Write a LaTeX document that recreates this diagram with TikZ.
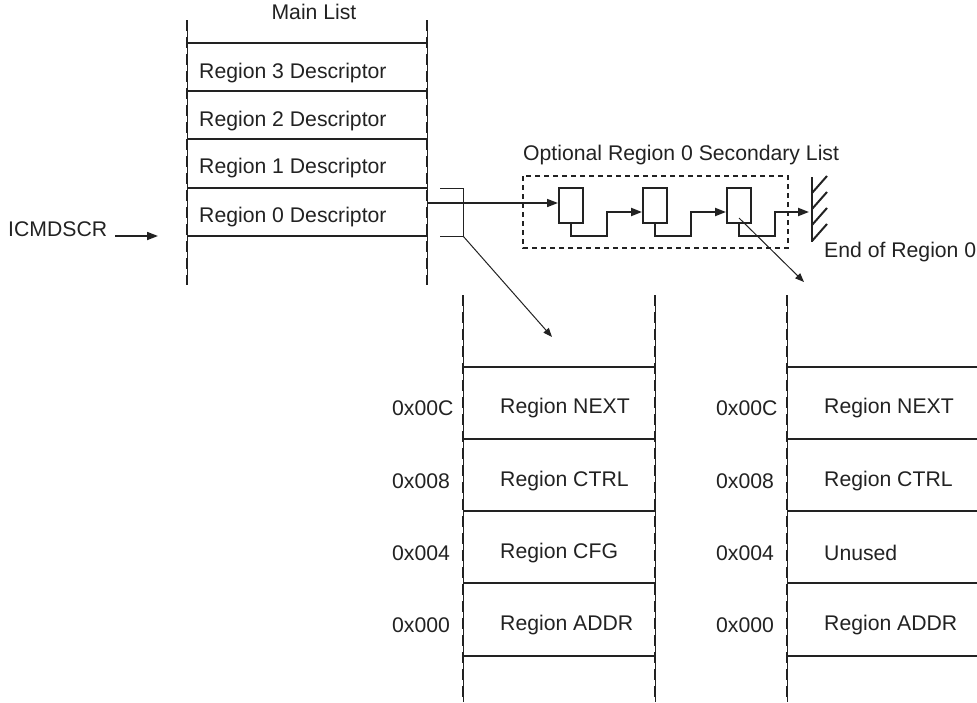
\documentclass[tikz,border=0pt]{standalone}
\usepackage{fontspec}
\setmainfont{Liberation Sans}
\usetikzlibrary{arrows.meta,calc}
\definecolor{ink}{HTML}{222222}
\begin{document}
\begin{tikzpicture}[x=1pt,y=-1pt,
  txt/.style={font=\fontsize{21.2}{25}\selectfont, text=ink, inner sep=0pt},
  rail/.style={draw=ink, line width=0.7pt},
  raild/.style={draw=ink, line width=2.1pt, dash pattern=on 11pt off 6pt},
  rung/.style={draw=ink, line width=1.9pt},
  sbox/.style={draw=ink, line width=2pt, minimum width=24pt, minimum height=35pt, inner sep=0pt},
  conn/.style={draw=ink, line width=2pt},
  bigtip/.style={-{Triangle[length=11pt,width=8pt]}},
  smalltip/.style={-{Triangle[length=9pt,width=7pt]}},
  thinline/.style={draw=ink, line width=1pt},
  optbox/.style={draw=ink, line width=1.8pt, dash pattern=on 5pt off 4pt}]
\useasboundingbox (0,0) rectangle (977,702);

% ---------- main list ----------
\foreach \x in {187,427}{
  \draw[rail] (\x,20) -- (\x,285);
  \draw[raild] (\x,20) -- (\x,285);
}
\foreach \y in {43,91,139,188,236}{
  \draw[rung] (187,\y) -- (427,\y);
}
\node[txt] (mainlist) at (314,12) {Main List};
\node[txt,anchor=west] (r3) at (199,73) {Region 3 Descriptor};
\node[txt,anchor=west] (r2) at (199,121) {Region 2 Descriptor};
\node[txt,anchor=west] (r1) at (199,168) {Region 1 Descriptor};
\node[txt,anchor=west] (r0) at (199,217) {Region 0 Descriptor};

% ICMDSCR
\node[txt,anchor=west] (icm) at (8,229) {ICMDSCR};
\coordinate (icmA) at (115,236);
\coordinate (icmB) at (158,236);
\draw[conn,line width=1.7pt,bigtip] (icmA) -- (icmB);

% bracket and pointer to lower-left list
\coordinate (brA) at (440,188);
\coordinate (brB) at (463,188);
\coordinate (brC) at (463,236);
\coordinate (brD) at (440,236);
\draw[thinline] (brA) -- (brB) -- (brC) -- (brD);
\coordinate (lltip) at (552,337);
\draw[thinline,smalltip] (brC) -- (lltip);

% ---------- secondary list ----------
\node[txt,anchor=west] (optlabel) at (523,155) {Optional Region 0 Secondary List};
\draw[optbox] (523,176) rectangle (788,248);

\node[sbox] (b1) at (571,205.5) {};
\node[sbox] (b2) at (655,205.5) {};
\node[sbox] (b3) at (739,205.5) {};

\coordinate (m0) at (427,203);
\draw[conn,line width=1.6pt,bigtip] (m0) -- (m0 -| b1.west);

\coordinate (c1a) at (607,236);
\coordinate (c1b) at (607,212);
\draw[conn,bigtip] (b1.south) |- (c1a) -- (c1b) -- (c1b -| b2.west);
\coordinate (c2a) at (691,236);
\coordinate (c2b) at (691,212);
\draw[conn,bigtip] (b2.south) |- (c2a) -- (c2b) -- (c2b -| b3.west);
\coordinate (c3a) at (775,236);
\coordinate (c3b) at (775,212);
\coordinate (wallhit) at (809,212);
\draw[conn,bigtip] (b3.south) |- (c3a) -- (c3b) -- (wallhit);

% wall
\coordinate (wtop) at (812,177);
\coordinate (wbot) at (812,242);
\draw[conn] (wtop) -- (wbot);
\foreach \y in {193,209,225,241}{
  \draw[conn] (812,\y) -- ++(15,-17);
}
\node[txt,anchor=west] (endlabel) at (824,252) {End of Region 0};

% pointer to lower-right list
\coordinate (b3in) at (739,218);
\coordinate (lrtip) at (804,282);
\draw[thinline,smalltip] (b3in) -- (lrtip);

% ---------- lower-left list ----------
\foreach \x in {463,655}{
  \draw[rail] (\x,295) -- (\x,702);
  \draw[raild] (\x,295) -- (\x,702);
}
\foreach \y in {367,439,511,583,656}{
  \draw[rung] (463,\y) -- (655,\y);
}
\node[txt,anchor=west] (ln) at (500,408) {Region NEXT};
\node[txt,anchor=west] (lc) at (500,481) {Region CTRL};
\node[txt,anchor=west] (lf) at (500,553) {Region CFG};
\node[txt,anchor=west] (la) at (500,625) {Region ADDR};
\node[txt,anchor=west] (lo1) at (392,408) {0x00C};
\node[txt,anchor=west] (lo2) at (392,481) {0x008};
\node[txt,anchor=west] (lo3) at (392,553) {0x004};
\node[txt,anchor=west] (lo4) at (392,625) {0x000};

% ---------- lower-right list ----------
\draw[rail] (787,295) -- (787,702);
\draw[raild] (787,295) -- (787,702);
\foreach \y in {367,439,511,583,656}{
  \draw[rung] (787,\y) -- (977,\y);
}
\node[txt,anchor=west] (rn) at (824,408) {Region NEXT};
\node[txt,anchor=west] (rc) at (824,481) {Region CTRL};
\node[txt,anchor=west] (ru) at (824,553) {Unused};
\node[txt,anchor=west] (ra) at (824,625) {Region ADDR};
\node[txt,anchor=west] (ro1) at (716,408) {0x00C};
\node[txt,anchor=west] (ro2) at (716,481) {0x008};
\node[txt,anchor=west] (ro3) at (716,553) {0x004};
\node[txt,anchor=west] (ro4) at (716,625) {0x000};
\end{tikzpicture}
\end{document}
